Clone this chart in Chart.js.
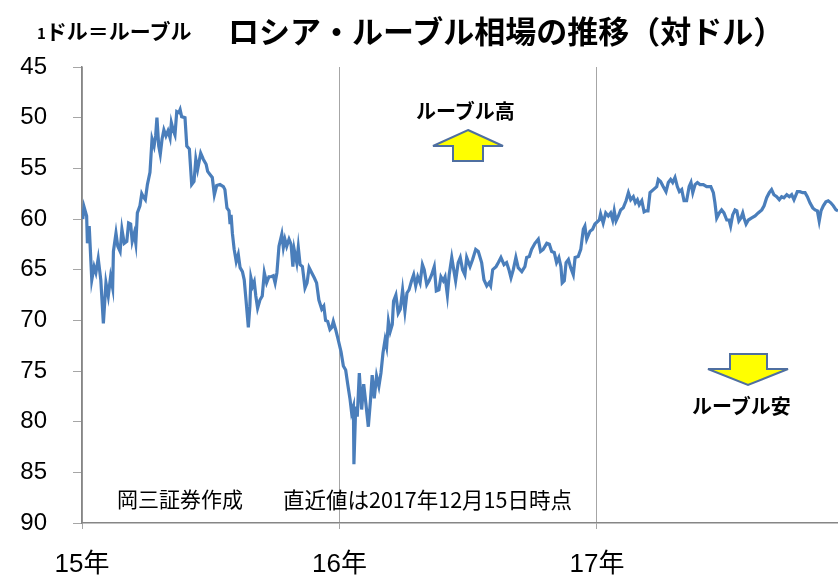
<!DOCTYPE html>
<html>
<head>
<meta charset="utf-8">
<script src="https://cdn.jsdelivr.net/npm/chart.js@4.4.1/dist/chart.umd.min.js"></script>
<style>
  html, body { margin: 0; padding: 0; background: #fff; overflow: hidden; }
  #wrap { position: relative; width: 838px; height: 575px; }
  .lbl { position: absolute; white-space: nowrap; color: #000; font-family: "Noto Sans CJK JP", sans-serif; line-height: 1; }
  .b { font-weight: bold; }
  svg { position: absolute; left: 0; top: 0; }
</style>
</head>
<body>
<div id="wrap">
  <canvas id="rubChart" width="838" height="575"></canvas>
  <div class="lbl b" style="left:37px;top:20px;font-size:21px;"><span style="font-size:15px;">1</span>ドル＝ルーブル</div>
  <div class="lbl b" style="left:228px;top:14px;font-size:31px;">ロシア・ルーブル相場の推移（対ドル）</div>
  <div class="lbl b" style="left:416px;top:101px;font-size:20px;">ルーブル高</div>
  <div class="lbl b" style="left:692px;top:396px;font-size:20px;">ルーブル安</div>
  <div class="lbl" style="left:117px;top:488px;font-size:21px;">岡三証券作成</div>
  <div class="lbl" style="left:283px;top:488px;font-size:21.5px;">直近値は2017年12月15日時点</div>
  <svg width="838" height="575">
    <polygon points="468,130 503,146 483,146 483,161 453,161 453,146 433,146" fill="#ffff00" stroke="#4f6fa0" stroke-width="2"/>
    <polygon points="730,354 767,354 767,369 788,369 748,385 708,369 730,369" fill="#ffff00" stroke="#4f6fa0" stroke-width="2"/>
  </svg>
</div>
<script>
// x = date as fractional year, y = rubles per dollar
var dateYears = [
  2015.003,2015.008,2015.018,2015.021,2015.028,2015.038,2015.047,2015.054,2015.063,2015.073,
  2015.083,2015.093,2015.102,2015.111,2015.119,2015.122,2015.132,2015.139,2015.148,2015.155,
  2015.164,2015.174,2015.181,2015.189,2015.195,2015.203,2015.209,2015.215,2015.225,2015.232,
  2015.238,2015.246,2015.254,2015.264,2015.272,2015.280,2015.286,2015.291,2015.298,2015.304,
  2015.311,2015.318,2015.326,2015.334,2015.342,2015.347,2015.355,2015.361,2015.368,2015.376,
  2015.381,2015.387,2015.400,2015.407,2015.417,2015.426,2015.435,2015.442,2015.449,2015.461,
  2015.471,2015.482,2015.488,2015.497,2015.506,2015.514,2015.523,2015.536,
  2015.549,2015.555,2015.563,2015.571,2015.575,2015.579,2015.584,2015.591,2015.599,2015.607,
  2015.614,2015.623,2015.630,2015.637,2015.646,2015.652,2015.656,2015.663,2015.669,2015.675,
  2015.682,2015.691,2015.700,2015.708,2015.717,2015.726,2015.734,2015.743,2015.750,2015.757,
  2015.765,2015.776,2015.782,2015.788,2015.795,2015.804,2015.812,2015.819,2015.824,2015.834,
  2015.840,2015.847,2015.856,2015.866,2015.874,2015.882,2015.892,2015.902,2015.911,2015.920,
  2015.931,2015.939,2015.946,2015.954,2015.963,2015.970,2015.976,2015.985,2015.993,
  2016.006,2016.015,2016.024,2016.032,2016.041,2016.047,2016.054,2016.056,2016.063,2016.069,
  2016.077,2016.086,2016.094,2016.102,2016.112,2016.120,2016.127,2016.135,2016.144,2016.153,
  2016.161,2016.169,2016.177,2016.183,2016.190,2016.197,2016.205,2016.210,2016.219,2016.228,
  2016.236,2016.245,2016.254,2016.262,2016.270,2016.280,2016.288,2016.296,2016.304,2016.313,
  2016.322,2016.329,2016.339,2016.348,2016.358,2016.368,2016.376,2016.386,2016.394,2016.403,
  2016.410,2016.419,2016.426,2016.436,2016.445,2016.451,2016.461,2016.469,2016.478,2016.487,
  2016.494,2016.507,2016.517,2016.529,2016.539,2016.552,2016.561,2016.572,2016.581,2016.587,
  2016.595,2016.608,2016.617,2016.627,2016.639,2016.649,2016.658,2016.666,2016.675,2016.685,
  2016.694,2016.708,2016.720,2016.727,2016.737,2016.746,2016.759,2016.772,2016.781,2016.791,
  2016.805,2016.815,2016.824,2016.834,2016.843,2016.852,2016.860,2016.865,2016.873,2016.880,
  2016.889,2016.898,2016.908,2016.915,2016.927,2016.937,2016.947,2016.953,2016.960,2016.973,
  2016.983,2016.992,
  2017.009,2017.014,2017.024,2017.034,2017.044,2017.053,2017.061,2017.067,2017.074,2017.083,
  2017.092,2017.102,2017.113,2017.122,2017.131,2017.141,2017.149,2017.157,2017.164,2017.174,
  2017.183,2017.190,2017.198,2017.206,2017.219,2017.232,2017.238,2017.247,2017.257,2017.268,
  2017.277,2017.286,2017.294,2017.303,2017.312,2017.320,2017.329,2017.338,2017.348,2017.358,
  2017.365,2017.372,2017.381,2017.390,2017.400,2017.413,2017.426,2017.442,2017.452,2017.458,
  2017.465,2017.475,2017.484,2017.493,2017.504,2017.513,2017.519,2017.527,2017.536,2017.543,
  2017.551,2017.559,2017.566,2017.571,2017.579,2017.588,2017.601,2017.614,2017.626,2017.640,
  2017.649,2017.659,2017.669,2017.678,2017.687,2017.698,2017.708,2017.717,2017.726,2017.737,
  2017.747,2017.756,2017.765,2017.778,2017.788,2017.799,2017.808,2017.817,2017.827,2017.838,
  2017.847,2017.856,2017.863,2017.870,2017.879,2017.889,2017.898,2017.908,2017.918,2017.928,
  2017.936
];
var rubPerUsd = [
  60.0,58.8,59.7,62.4,60.7,66.0,64.7,65.3,63.9,66.0,
  70.3,66.3,67.6,65.7,66.8,63.2,61.4,62.7,63.2,61.0,
  62.4,62.2,60.4,60.5,62.2,61.4,62.4,59.4,58.7,57.5,
  57.8,58.1,56.6,55.4,52.1,52.8,51.8,50.0,52.8,53.6,
  52.1,51.2,51.8,51.3,52.0,50.5,51.3,51.7,49.4,49.5,
  49.2,49.9,50.0,52.8,53.1,56.6,56.3,54.1,55.1,53.5,
  54.1,54.6,55.3,55.6,55.9,57.6,56.7,56.6,
  56.8,57.1,58.9,59.2,60.5,59.6,61.4,63.0,64.2,63.5,
  64.8,65.2,66.0,68.0,70.7,68.6,65.8,66.6,66.2,67.6,
  68.8,68.0,67.6,65.3,66.3,65.7,65.7,65.6,66.3,65.3,
  62.7,61.5,62.8,62.0,62.7,62.0,62.5,64.7,63.0,64.3,
  62.8,64.5,64.7,66.8,66.3,64.8,65.3,65.8,66.3,68.0,
  68.9,68.6,70.0,70.1,70.9,70.7,70.1,70.9,71.7,
  73.1,74.5,74.9,76.3,77.8,79.1,78.5,84.2,78.5,79.5,
  75.2,78.8,76.3,78.1,80.5,78.0,75.4,77.7,75.5,76.5,
  75.2,73.2,71.9,72.6,70.1,71.1,70.4,68.1,67.5,69.3,
  68.9,67.0,69.1,67.3,67.0,66.1,65.5,66.6,65.7,66.3,
  64.5,65.0,66.5,66.1,65.5,64.7,67.1,67.0,65.7,66.1,
  65.7,67.5,65.5,63.8,65.2,66.1,64.3,63.8,65.0,65.5,
  63.8,64.7,64.0,63.0,63.2,64.3,66.0,66.6,66.3,66.6,
  65.0,64.7,64.3,63.8,64.5,64.3,65.0,65.8,65.0,63.8,
  64.8,65.2,64.7,63.8,63.7,63.0,62.4,62.0,63.2,63.0,
  62.4,62.5,63.2,63.3,64.3,63.8,64.7,66.3,66.1,64.3,
  64.0,64.8,65.5,63.8,63.7,63.0,61.0,60.7,62.0,61.2,
  61.0,60.5,
  60.1,59.5,60.4,59.4,59.7,59.4,60.1,59.2,60.2,59.7,
  59.1,58.9,58.2,57.4,58.1,57.8,58.4,58.1,58.6,58.2,
  59.3,59.2,59.2,57.4,57.1,56.8,56.1,56.3,56.8,57.3,
  56.4,56.1,56.4,55.9,56.8,57.3,57.1,58.2,58.2,56.8,
  56.4,57.4,56.6,56.4,56.6,56.6,56.8,56.8,57.4,58.4,
  59.9,59.4,59.1,59.4,60.1,60.1,60.7,59.6,59.1,59.2,
  60.2,59.9,59.4,59.9,60.5,60.1,59.9,59.7,59.4,59.1,
  58.7,57.9,57.4,57.1,57.6,57.8,58.1,57.8,57.9,57.6,
  57.8,57.6,58.1,57.3,57.3,57.4,57.4,57.8,58.4,58.9,
  59.1,59.2,60.2,59.2,58.7,58.3,58.2,58.4,58.7,59.1,
  59.2
];
var yearTicks = [2015, 2016, 2017];
var yearLabels = ['15年', '16年', '17年'];
var rateMin = 45, rateMax = 90, rateStep = 5;

var points = dateYears.map(function (d, i) { return { x: d, y: rubPerUsd[i] }; });

new Chart(document.getElementById('rubChart').getContext('2d'), {
  type: 'line',
  data: {
    datasets: [{
      data: points,
      borderColor: '#4a7ebb',
      borderWidth: 3.2,
      pointRadius: 0,
      tension: 0,
      fill: false
    }]
  },
  options: {
    responsive: false,
    animation: false,
    devicePixelRatio: 1,
    layout: { padding: { top: 67, left: 0, right: 0, bottom: 0 } },
    plugins: { legend: { display: false }, tooltip: { enabled: false }, title: { display: false } },
    scales: {
      x: {
        type: 'linear',
        min: yearTicks[0],
        max: dateYears[dateYears.length - 1],
        afterBuildTicks: function (scale) {
          scale.ticks = yearTicks.map(function (v) { return { value: v }; });
        },
        afterFit: function (scale) { scale.height = 52; },
        ticks: {
          autoSkip: false,
          maxRotation: 0,
          padding: 20,
          color: '#000',
          font: { family: '"Liberation Sans", "Noto Sans CJK JP"', size: 26 },
          callback: function (v) {
            var i = yearTicks.indexOf(v);
            return i >= 0 ? yearLabels[i] : '';
          }
        },
        grid: { color: '#a6a6a6', lineWidth: 1, tickLength: 6, drawTicks: true },
        border: { color: '#868686', width: 1.5 }
      },
      y: {
        reverse: true,
        min: rateMin,
        max: rateMax,
        afterFit: function (scale) { scale.width = 82; },
        ticks: {
          stepSize: rateStep,
          padding: 26,
          color: '#000',
          font: { family: '"Liberation Sans"', size: 24 }
        },
        grid: { drawOnChartArea: false, drawTicks: true, tickLength: 9, color: '#a6a6a6' },
        border: { color: '#868686', width: 1.5 }
      }
    }
  }
});
</script>
</body>
</html>
